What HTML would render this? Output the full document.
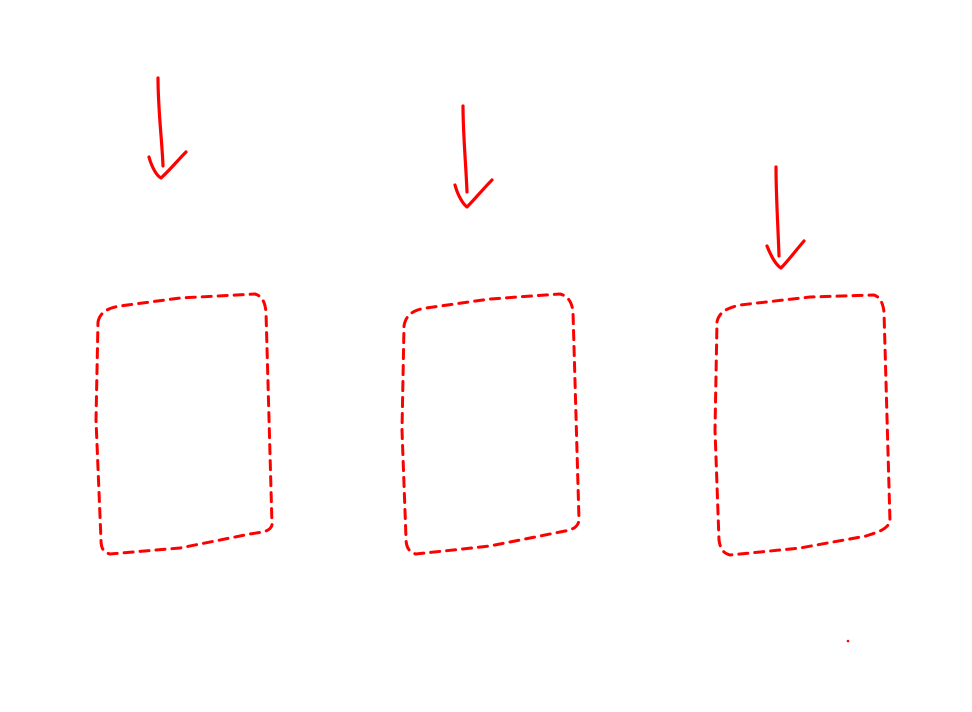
<!DOCTYPE html>
<html>
<head>
<meta charset="utf-8">
<style>
  html,body{margin:0;padding:0;background:#fff;}
  svg{display:block;}
</style>
</head>
<body>
<svg width="972" height="712" viewBox="0 0 972 712">
  <g fill="none" stroke="#ff0000" stroke-width="3.2" stroke-linecap="round" stroke-linejoin="round">
    <g>
      <path d="M158 78 C158 110 162 140 163 166"/>
      <path d="M149 157 C152 168 157 176 161 178 C168 172 178 160 186 152"/>
    </g>
    <g>
      <path d="M463 106 C463 135 466 165 467 192"/>
      <path d="M455 185 C458 196 463 204 467 207 C474 200 484 188 492 180"/>
    </g>
    <g>
      <path d="M776 167 C776 196 778 226 779 256"/>
      <path d="M767 246 C771 256 776 265 781 268 C788 261 797 249 804 241"/>
    </g>
  </g>
  <g fill="none" stroke="#ff0000" stroke-width="3" stroke-linecap="round" stroke-dasharray="9 7">
    <path
      d="M98 322 C100 312 108 308 120 306 L180 298 L255 294 C262 296 265 302 266 312 L272 525 C270 532 262 532 250 534 L180 548 L110 554 C102 552 101 546 101 540 L96 420 Z"/>
    <path
      d="M404 326 C406 314 414 310 426 308 L490 299 L560 294 C568 296 572 302 573 312 L579 520 C578 528 572 530 560 532 L490 546 L416 554 C408 552 406 546 406 538 L402 430 Z"/>
    <path
      d="M717 322 C719 312 727 308 740 305 L810 297 L874 295 C880 297 883 303 884 312 L890 522 C886 530 878 532 866 536 L800 548 L730 555 C722 553 720 547 719 540 L715 430 Z"/>
  </g>
  <circle cx="848" cy="641" r="1.3" fill="#ff0000"/>
</svg>
</body>
</html>
